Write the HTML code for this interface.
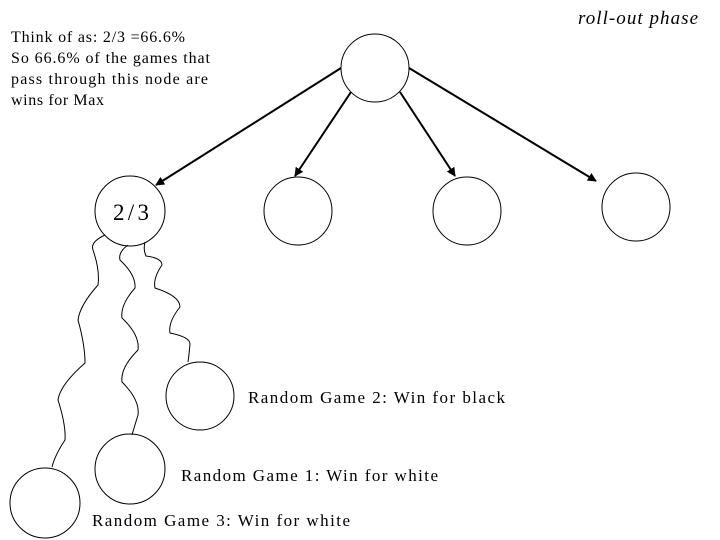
<!DOCTYPE html>
<html><head><meta charset="utf-8"><style>
html,body{margin:0;padding:0;background:#fff;}
svg{display:block;font-family:"Liberation Serif",serif;}
</style></head><body>
<svg width="720" height="540" viewBox="0 0 720 540" xmlns="http://www.w3.org/2000/svg">
<defs><marker id="a" viewBox="0 0 10 10" refX="9" refY="5" markerWidth="9" markerHeight="9" orient="auto" markerUnits="userSpaceOnUse"><path d="M0,0 L10,5 L0,10 z" fill="#000"/></marker></defs>
<g fill="#fff" stroke="#000" stroke-width="1">
<circle cx="375" cy="68" r="34"/>
<circle cx="130" cy="211" r="35"/>
<circle cx="298" cy="211" r="34"/>
<circle cx="467" cy="211" r="34"/>
<circle cx="636" cy="207" r="34"/>
<circle cx="200" cy="396" r="34"/>
<circle cx="130" cy="469" r="35"/>
<circle cx="45" cy="503" r="35"/>
</g>
<g stroke="#000" stroke-width="2" marker-end="url(#a)">
<line x1="341" y1="68" x2="156" y2="185"/>
<line x1="351" y1="92" x2="295" y2="176"/>
<line x1="400" y1="92" x2="455" y2="176"/>
<line x1="409" y1="68" x2="596" y2="181"/>
</g>
<g fill="none" stroke="#000" stroke-width="1" stroke-linejoin="round">
<path d="M105,235 Q90,242 93,250 Q100,270 98,285 Q80,305 78,320 Q85,345 85,363 Q60,385 58,400 Q66,425 65,440 Q55,455 52,467"/>
<path d="M128,245 Q118,252 120,260 Q136,275 135,288 Q120,305 122,318 Q140,335 138,350 Q120,368 122,382 Q140,400 138,415 Q134,428 132,435"/>
<path d="M145,242 Q143,250 146,256 Q162,258 162,265 Q153,278 155,288 Q180,296 180,307 Q168,322 170,333 Q190,337 190,344 Q189,355 188,362"/>
</g>
<g font-size="16" fill="#000" lengthAdjust="spacing">
<text x="11" y="42" textLength="174" lengthAdjust="spacing">Think of as: 2/3 =66.6%</text>
<text x="11" y="63" textLength="199" lengthAdjust="spacing">So 66.6% of the games that</text>
<text x="11" y="84" textLength="197" lengthAdjust="spacing">pass through this node are</text>
<text x="11" y="105" textLength="93" lengthAdjust="spacing">wins for Max</text>
</g>
<text x="578" y="24" font-size="19" font-style="italic" textLength="120" lengthAdjust="spacing">roll-out phase</text>
<text x="113" y="220" font-size="23" textLength="36" lengthAdjust="spacing">2/3</text>
<g font-size="17">
<text x="248" y="403" textLength="257" lengthAdjust="spacing">Random Game 2: Win for black</text>
<text x="181" y="481" textLength="257" lengthAdjust="spacing">Random Game 1: Win for white</text>
<text x="92" y="526" textLength="258" lengthAdjust="spacing">Random Game 3: Win for white</text>
</g>
</svg>
</body></html>
